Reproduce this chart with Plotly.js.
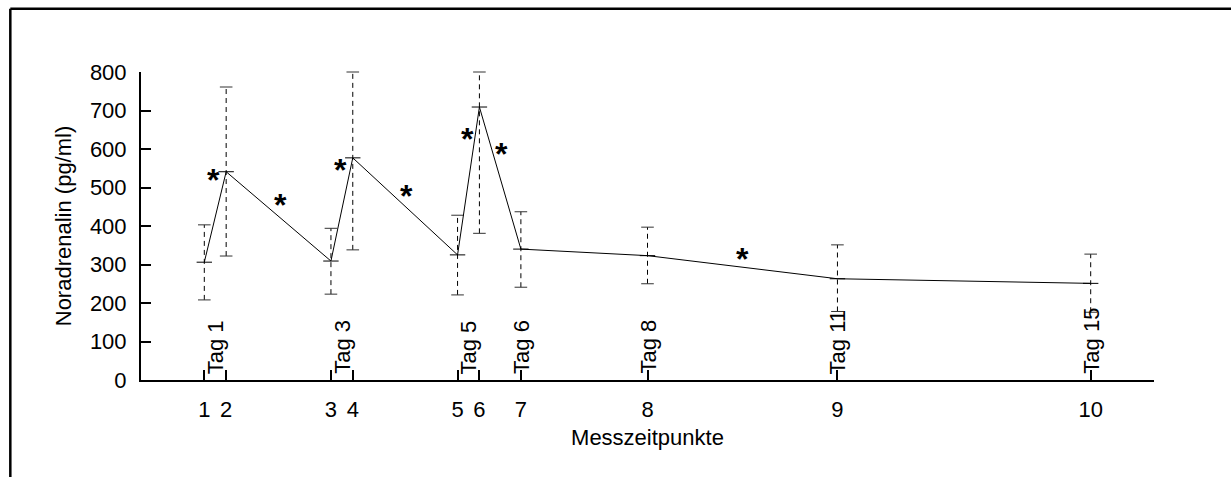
<!DOCTYPE html>
<html>
<head>
<meta charset="utf-8">
<script src="https://cdn.plot.ly/plotly-3.0.1.min.js"></script>
<style>html,body{margin:0;padding:0;background:#fff;}#chart{width:1231px;height:477px;}</style>
</head>
<body>
<div id="chart"></div>
<script>
// Measurement points: time in days, label of the tick, the study day (Tag) they belong to
const pointDay   = [1, 1.345, 3, 3.345, 5, 5.345, 6, 8, 11, 15];
const pointLabel = ["1","2","3","4","5","6","7","8","9","10"];
const pointTag   = [1, 1, 3, 3, 5, 5, 6, 8, 11, 15];
// Noradrenalin (pg/ml) mean and visible ends of the dashed error bars
const meanValue  = [306, 541, 309, 577, 325, 709, 340, 323, 263, 251];
const upperValue = [403, 761, 394, 800, 428, 800, 437, 397, 351, 327];
const lowerValue = [208, 322, 223, 338, 221, 381, 241, 250, 178, 176];
// significance markers (*)
const sigDay   = [1.142, 2.2, 3.15, 4.19, 5.15, 5.697, 9.5];
const sigValue = [537, 472, 564, 496, 644, 605, 333];

const FONT = "Liberation Sans, Arial, sans-serif";
const FS = 22;

// dashed error bars built from the arrays
const ebX = [], ebY = [];
pointDay.forEach((d, i) => { ebX.push(d, d, null); ebY.push(lowerValue[i], upperValue[i], null); });

const traces = [
  { x: ebX, y: ebY, mode: "lines", line: {color: "#000", width: 1, dash: "5px,4px"}, hoverinfo: "skip", showlegend: false, cliponaxis: false },
  { x: pointDay.concat(pointDay), y: upperValue.concat(lowerValue), mode: "markers",
    marker: {symbol: "line-ew", size: 9, line: {color: "#333", width: 1}}, showlegend: false, cliponaxis: false },
  { x: pointDay, y: meanValue, mode: "lines+markers", line: {color: "#000", width: 1},
    marker: {symbol: "line-ew", size: 11, line: {color: "#000", width: 1}}, showlegend: false, cliponaxis: false }
];

// Tag labels: centered on the mean time of the points of that day
const tags = [...new Set(pointTag)];
const annotations = tags.map(t => {
  const xs = pointDay.filter((_, i) => pointTag[i] === t);
  const xm = xs.reduce((a, b) => a + b, 0) / xs.length;
  return { x: xm, y: 0, xref: "x", yref: "y", text: "Tag " + t, textangle: -90, showarrow: false,
           xanchor: "center", yanchor: "bottom", yshift: 4, font: {family: FONT, size: FS, color: "#000"} };
});
sigDay.forEach((d, i) => annotations.push({ x: d, y: sigValue[i], xref: "x", yref: "y", text: "<b>*</b>", showarrow: false,
  xanchor: "center", yanchor: "middle", yshift: -7, font: {family: FONT, size: 32, color: "#000"} }));

const layout = {
  width: 1231, height: 477,
  margin: {l: 141, r: 77, t: 72, b: 97},
  paper_bgcolor: "#fff", plot_bgcolor: "#fff",
  font: {family: FONT, size: FS, color: "#000"},
  showlegend: false,
  xaxis: {
    range: [0, 16], showgrid: false, zeroline: false,
    showline: true, linecolor: "#000", linewidth: 2,
    tickmode: "array", tickvals: pointDay, ticktext: pointLabel,
    ticks: "inside", ticklen: 10, tickwidth: 2, tickcolor: "#000", ticklabelstandoff: 9,
    title: {text: "Messzeitpunkte", standoff: 8, font: {family: FONT, size: FS}}
  },
  yaxis: {
    range: [0, 800], showgrid: false, zeroline: false,
    showline: true, linecolor: "#000", linewidth: 2,
    tickmode: "linear", tick0: 0, dtick: 100,
    ticks: "inside", ticklen: 10, tickwidth: 2, tickcolor: "#000", ticklabelstandoff: 8,
    title: {text: "Noradrenalin (pg/ml)", standoff: 12, font: {family: FONT, size: FS}}
  },
  annotations: annotations,
  shapes: [
    {type: "line", xref: "paper", yref: "paper", x0: -0.129, x1: 1.2, y0: 1.205, y1: 1.205, line: {color: "#000", width: 2.5}},
    {type: "line", xref: "paper", yref: "paper", x0: -0.129, x1: -0.129, y0: 1.205, y1: -0.5, line: {color: "#000", width: 2.5}}
  ]
};

Plotly.newPlot("chart", traces, layout, {displayModeBar: false, staticPlot: true});
</script>
</body>
</html>
